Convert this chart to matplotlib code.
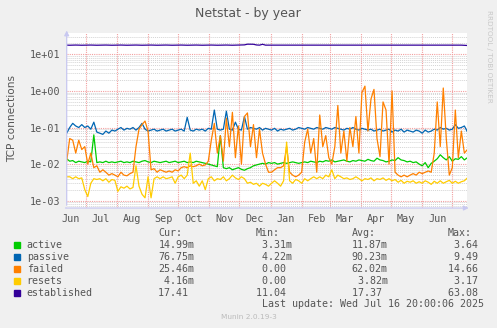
import matplotlib
matplotlib.use("Agg")
import matplotlib.pyplot as plt
from matplotlib.patches import Rectangle
from matplotlib.ticker import NullLocator
import pandas as pd

# samples every 3 days, Jun 12 2024 .. Jul 16 2025
dates = pd.date_range("2024-06-12", periods=134, freq="3D")

active = [
    0.014, 0.012, 0.0125, 0.011, 0.012, 0.0115, 0.011, 0.012, 0.0115, 0.063,
    0.011, 0.0115, 0.011, 0.012, 0.011, 0.0115, 0.011, 0.0115, 0.012, 0.011,
    0.0115, 0.011, 0.012, 0.0115, 0.011, 0.012, 0.0125, 0.0115, 0.011, 0.012,
    0.0115, 0.011, 0.0115, 0.012, 0.011, 0.0115, 0.012, 0.011, 0.0115, 0.012,
    0.011, 0.0115, 0.011, 0.012, 0.0115, 0.011, 0.0105, 0.01, 0.0095, 0.009,
    0.0085, 0.06, 0.008, 0.0075, 0.008, 0.007, 0.0075, 0.008, 0.0072, 0.0068,
    0.0075, 0.008, 0.009, 0.0095, 0.01, 0.0105, 0.01, 0.011, 0.0105, 0.011,
    0.01, 0.0105, 0.011, 0.0105, 0.011, 0.0115, 0.011, 0.0105, 0.011, 0.0115,
    0.011, 0.012, 0.0115, 0.011, 0.012, 0.0115, 0.0125, 0.012, 0.013, 0.0115,
    0.012, 0.0125, 0.013, 0.012, 0.0115, 0.0125, 0.012, 0.013, 0.0125, 0.012,
    0.0135, 0.0125, 0.012, 0.0145, 0.013, 0.0125, 0.0115, 0.012, 0.013, 0.0125,
    0.015, 0.013, 0.0125, 0.0115, 0.012, 0.011, 0.0115, 0.01, 0.009, 0.011,
    0.008, 0.0105, 0.012, 0.014, 0.018, 0.015, 0.013, 0.016, 0.012, 0.014,
    0.0135, 0.016, 0.013, 0.015,
]

passive = [
    0.07, 0.1, 0.13, 0.11, 0.1, 0.12, 0.1, 0.11, 0.09, 0.14,
    0.075, 0.07, 0.065, 0.08, 0.07, 0.085, 0.08, 0.09, 0.1, 0.085,
    0.095, 0.09, 0.1, 0.085, 0.1, 0.13, 0.09, 0.08, 0.085, 0.09,
    0.08, 0.085, 0.09, 0.08, 0.085, 0.09, 0.08, 0.085, 0.09, 0.08,
    0.19, 0.085, 0.08, 0.09, 0.085, 0.09, 0.08, 0.095, 0.09, 0.3,
    0.09, 0.085, 0.09, 0.28, 0.09, 0.085, 0.14, 0.09, 0.085, 0.2,
    0.09, 0.1, 0.095, 0.09, 0.1, 0.085, 0.095, 0.09, 0.085, 0.095,
    0.08, 0.09, 0.085, 0.09, 0.095, 0.085, 0.09, 0.1, 0.095, 0.09,
    0.1, 0.095, 0.09, 0.1, 0.095, 0.09, 0.1, 0.095, 0.09, 0.1,
    0.095, 0.09, 0.085, 0.095, 0.09, 0.1, 0.09, 0.085, 0.095, 0.09,
    0.085, 0.09, 0.08, 0.085, 0.09, 0.08, 0.085, 0.09, 0.075, 0.085,
    0.08, 0.09, 0.075, 0.085, 0.08, 0.075, 0.085, 0.08, 0.07, 0.085,
    0.075, 0.08, 0.09, 0.085, 0.1, 0.09, 0.095, 0.085, 0.09, 0.12,
    0.095, 0.1, 0.11, 0.077,
]

failed = [
    0.012, 0.05, 0.045, 0.02, 0.045, 0.025, 0.03, 0.01, 0.02, 0.008,
    0.009, 0.006, 0.007, 0.006, 0.005, 0.0055, 0.005, 0.0045, 0.006, 0.005,
    0.0048, 0.0055, 0.006, 0.03, 0.09, 0.12, 0.15, 0.08, 0.007, 0.0075,
    0.006, 0.007, 0.0065, 0.006, 0.0065, 0.006, 0.007, 0.0065, 0.008, 0.0085,
    0.008, 0.009, 0.0085, 0.009, 0.01, 0.009, 0.0095, 0.012, 0.045, 0.13,
    0.02, 0.06, 0.012, 0.18, 0.03, 0.26, 0.015, 0.11, 0.01, 0.2,
    0.25, 0.03, 0.12, 0.015, 0.09, 0.02, 0.01, 0.006, 0.006, 0.007,
    0.008, 0.008, 0.009, 0.03, 0.006, 0.005, 0.0045, 0.005, 0.006, 0.04,
    0.09, 0.02, 0.05, 0.006, 0.22, 0.03, 0.06, 0.015, 0.01, 0.03,
    0.4, 0.02, 0.08, 0.012, 0.1, 0.03, 0.2, 0.02, 0.9, 1.35,
    0.08, 0.6, 1.1, 0.05, 0.016, 0.5, 0.3, 0.01, 1.0, 0.006,
    0.005, 0.0045, 0.005, 0.0045, 0.005, 0.0055, 0.005, 0.006, 0.0055, 0.006,
    0.0065, 0.006, 0.02, 0.5, 0.03, 1.2, 0.05, 0.005, 0.008, 0.3,
    0.015, 0.08, 0.02, 0.025,
]

resets = [
    0.0045, 0.0045, 0.004, 0.0045, 0.004, 0.0042, 0.002, 0.0013, 0.003, 0.004,
    0.0038, 0.004, 0.0035, 0.004, 0.0032, 0.0038, 0.0036, 0.0018, 0.0024, 0.0022,
    0.0025, 0.0021, 0.0023, 0.009, 0.0025, 0.0015, 0.0012, 0.0045, 0.0012, 0.004,
    0.0045, 0.004, 0.0045, 0.004, 0.0042, 0.0045, 0.003, 0.0045, 0.005, 0.004,
    0.005, 0.02, 0.003, 0.0035, 0.0025, 0.0035, 0.002, 0.004, 0.0045, 0.0035,
    0.004, 0.0038, 0.0045, 0.0035, 0.004, 0.005, 0.0042, 0.0038, 0.0045, 0.004,
    0.003, 0.0032, 0.0028, 0.003, 0.0025, 0.003, 0.0028, 0.0025, 0.003, 0.0035,
    0.003, 0.0025, 0.0035, 0.04, 0.0035, 0.003, 0.0038, 0.0035, 0.003, 0.004,
    0.0035, 0.004, 0.0045, 0.004, 0.0045, 0.004, 0.005, 0.0045, 0.007, 0.004,
    0.005, 0.0045, 0.004, 0.0042, 0.0038, 0.004, 0.0045, 0.004, 0.0035, 0.004,
    0.0038, 0.0042, 0.0035, 0.004, 0.0038, 0.0042, 0.0036, 0.004, 0.0035, 0.0038,
    0.0032, 0.0036, 0.003, 0.0034, 0.0032, 0.0035, 0.003, 0.0033, 0.003, 0.0035,
    0.0032, 0.0028, 0.0034, 0.003, 0.0035, 0.003, 0.0033, 0.0036, 0.003, 0.0034,
    0.003, 0.0033, 0.0035, 0.0042,
]

established = [
    17.8, 17.7, 17.8, 17.9, 17.8, 17.7, 17.8, 17.8, 17.9, 17.8,
    17.7, 17.8, 17.8, 17.9, 17.8, 17.7, 17.8, 17.8, 17.9, 17.8,
    17.7, 17.8, 17.8, 17.9, 17.8, 17.7, 17.8, 17.8, 17.9, 17.8,
    17.7, 17.8, 17.8, 17.9, 17.8, 17.7, 17.8, 17.8, 17.9, 17.8,
    17.7, 17.8, 17.8, 17.9, 17.8, 17.7, 17.8, 17.8, 17.9, 17.8,
    17.7, 17.8, 17.8, 17.9, 17.8, 17.7, 17.8, 17.8, 17.9, 18.1,
    18.9, 18.9, 18.8, 18.0, 17.8, 18.8, 17.8, 17.8, 17.9, 17.8,
    17.7, 17.8, 17.8, 17.9, 17.8, 17.7, 17.8, 17.8, 17.9, 17.8,
    17.7, 17.8, 17.8, 17.9, 17.8, 17.7, 17.8, 17.8, 17.9, 17.8,
    17.7, 17.8, 17.8, 17.9, 17.8, 17.7, 17.8, 17.8, 17.9, 17.8,
    17.7, 17.8, 17.8, 17.9, 17.8, 17.7, 17.8, 17.8, 17.9, 17.8,
    17.7, 17.8, 17.8, 17.9, 17.8, 17.7, 17.8, 17.8, 17.9, 17.8,
    17.7, 17.8, 17.8, 17.9, 17.8, 17.7, 17.8, 17.8, 17.9, 17.8,
    17.7, 17.8, 17.6, 17.41,
]

names = ["active", "passive", "failed", "resets", "established"]
colors = ["#00CC00", "#0066B3", "#FF8000", "#FFCC00", "#330099"]
cur = ["14.99m", "76.75m", "25.46m", " 4.16m", "17.41 "]
mins = [" 3.31m", " 4.22m", " 0.00 ", " 0.00 ", "11.04 "]
avgs = ["11.87m", "90.23m", "62.02m", " 3.82m", "17.37 "]
maxs = [" 3.64 ", " 9.49 ", "14.66 ", " 3.17 ", "63.08 "]

months = ["Jun", "Jul", "Aug", "Sep", "Oct", "Nov", "Dec",
          "Jan", "Feb", "Mar", "Apr", "May", "Jun"]
# month names sit mid-month, grid lines on the 1st
month_mid = [pd.Timestamp(2024 + (5 + i) // 12, (5 + i) % 12 + 1, 16) for i in range(13)]
month_start = pd.date_range("2024-07-01", "2025-07-01", freq="MS")

W, H = 497, 328
TXT = "#555555"
MONO = "DejaVu Sans Mono"


def fx(x):
    return x / W


def fy(y):
    return 1 - y / H


fig = plt.figure(figsize=(W / 100, H / 100), dpi=100, facecolor="#F0F0F0")
ax = fig.add_axes([fx(66.7), fy(208), 400 / W, 175 / H])
ax.set_facecolor("white")
ax.set_yscale("log")
ax.set_ylim(10 ** -3.199, 10 ** 1.582)
ax.set_xlim(pd.Timestamp("2024-06-12"), pd.Timestamp("2025-07-15 08:00"))
for s in ax.spines.values():
    s.set_visible(False)

# grid: gray minor, red major, red month boundaries
for d in range(-4, 2):
    for m in range(2, 10):
        ax.axhline(m * 10 ** d, color="#D4D4D4", lw=0.7, ls=(0, (1, 1)), zorder=0)
for d in range(-3, 2):
    ax.axhline(10 ** d, color="#F2A0A0", lw=0.8, ls=(0, (1, 1)), zorder=0.5)
for t in month_start:
    ax.axvline(t, color="#F2A0A0", lw=0.8, ls=(0, (1, 1)), zorder=0.5)

for vals, c in zip([active, passive, failed, resets, established], colors):
    ax.plot(dates, vals, color=c, lw=0.9, zorder=2)

ax.set_yticks([1e-3, 1e-2, 1e-1, 1, 10])
ax.set_yticklabels(["1e-03", "1e-02", "1e-01", "1e+00", "1e+01"])
ax.yaxis.set_minor_locator(NullLocator())
ax.xaxis.set_minor_locator(NullLocator())
ax.set_xticks(month_mid)
ax.set_xticklabels(months)
ax.tick_params(axis="y", length=0, pad=4.8, labelsize=7.3, labelcolor=TXT)
ax.tick_params(axis="x", length=0, pad=4.5, labelsize=7.3, labelcolor=TXT)
for lab in ax.get_xticklabels() + ax.get_yticklabels():
    lab.set_family(MONO)

# axis lines with arrow heads
arrow = dict(arrowstyle="-|>", color="#C8C8F0", lw=0.9, mutation_scale=7)
ax.annotate("", xy=(0, 1.03), xytext=(0, 0), xycoords="axes fraction",
            arrowprops=arrow, annotation_clip=False)
ax.annotate("", xy=(1.012, 0), xytext=(-0.01, 0), xycoords="axes fraction",
            arrowprops=arrow, annotation_clip=False)

fig.text(fx(248), fy(13), "Netstat - by year", ha="center", va="center",
         fontsize=9, color=TXT)
fig.text(fx(12), fy(119), "TCP connections", rotation=90, ha="center",
         va="center", fontsize=7.6, color=TXT)
fig.text(fx(488.5), fy(56), "RRDTOOL / TOBI OETIKER", rotation=270,
         ha="center", va="center", fontsize=5.2, color="#C8C8C8")

# legend table
for x, head in [(158.3, "Cur:"), (256, "Min:"), (351.7, "Avg:"), (447.7, "Max:")]:
    fig.text(fx(x), fy(232.7), head, ha="left", va="center",
             family=MONO, fontsize=7.2, color=TXT)
for i, name in enumerate(names):
    y = 244.7 + 12 * i
    fig.patches.append(Rectangle((fx(14), fy(y + 3)), 6 / W, 6 / H,
                                 transform=fig.transFigure, color=colors[i]))
    fig.text(fx(26.7), fy(y), name, ha="left", va="center",
             family=MONO, fontsize=7.2, color=TXT)
    for x, col in [(158.3, cur), (256, mins), (351.7, avgs), (447.7, maxs)]:
        fig.text(fx(x), fy(y), col[i], ha="left", va="center",
                 family=MONO, fontsize=7.2, color=TXT)
fig.text(fx(261.7), fy(304), "Last update: Wed Jul 16 20:00:06 2025",
         ha="left", va="center", family=MONO, fontsize=7.2, color=TXT)
fig.text(fx(249), fy(317), "Munin 2.0.19-3", ha="center", va="center",
         fontsize=5.3, color="#BBBBBB")

fig.savefig("out.png", dpi=100, facecolor=fig.get_facecolor())
